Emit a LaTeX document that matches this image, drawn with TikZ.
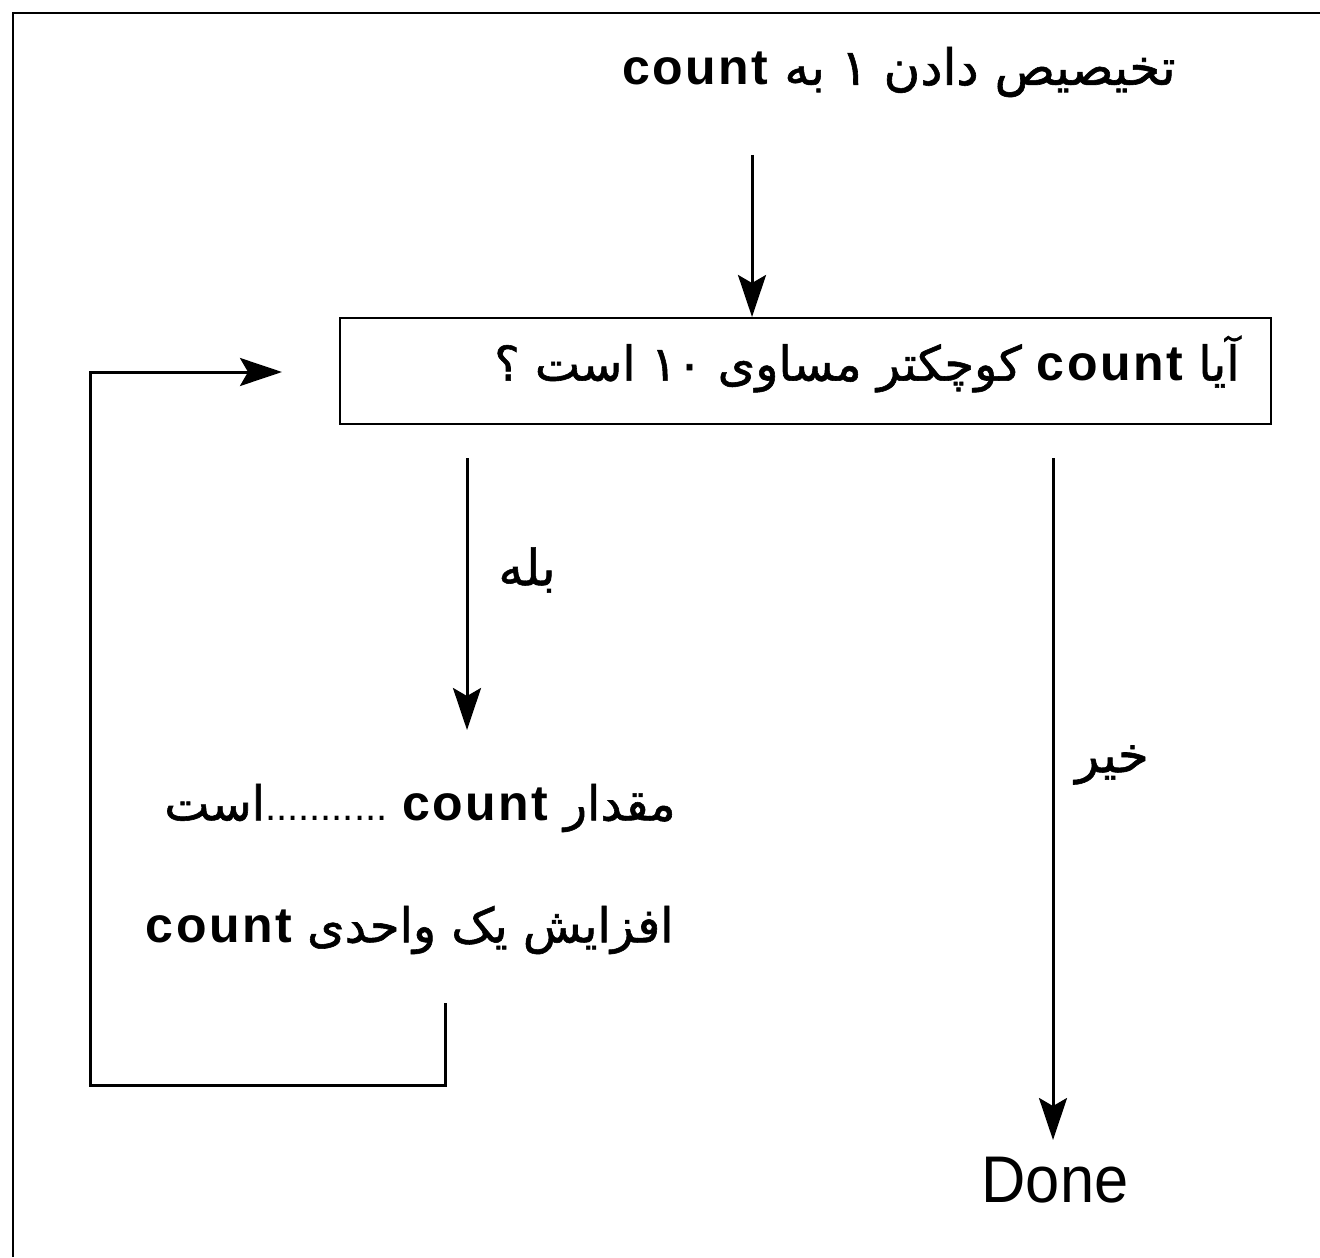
\documentclass[tikz,border=0pt]{standalone}
\usepackage{fontspec}
\setmainfont{Liberation Sans}
\TeXXeTstate=1
\newfontfamily\arfont[Script=Arabic, FakeBold=1.2]{DejaVu Sans}
\newfontfamily\digfont[FakeBold=1.2]{DejaVu Sans}
\newfontfamily\cntfont[LetterSpace=5]{Liberation Sans}
\newfontfamily\dotfont{Liberation Sans}
\usetikzlibrary{arrows.meta}
\newcommand\cnt{\beginL{\cntfont\bfseries\fontsize{25}{30}\selectfont count}\endL}
\tikzset{
  txt/.style={inner sep=0pt, font=\fontsize{25}{30}\selectfont},
  stxt/.style={inner sep=0pt, font=\fontsize{24}{30}\selectfont},
  conn/.style={line width=1.5pt},
  arr/.style={conn, -{Stealth[length=21pt, width=14pt, inset=4pt]}},
  frame/.style={line width=1.3pt},
}
\begin{document}
\begin{tikzpicture}[x=0.5pt, y=-0.5pt]
\useasboundingbox (0,0) rectangle (1320,1257);
% frame
\draw[frame] (13,1257) -- (13,13) -- (1320,13);
% top text
\node[txt] (init) at (899,72) {\arfont\beginR تخیصیص دادن \beginL{\digfont ۱}\endL{} به \cnt\endR};
% box
\node[draw, line width=1pt, minimum width=465.5pt, minimum height=53pt, inner sep=0pt] (box) at (805.5,371) {};
\node[stxt, anchor=east] (q) at (1240,364) {\arfont\beginR آیا \cnt{} کوچکتر مساوی \beginL{\digfont ۱۰}\endL{} است ؟\endR};
% coordinates for free ends
\coordinate (a1) at (752,155);
\coordinate (ys) at (467,458);
\coordinate (ye) at (467,730);
\coordinate (ns) at (1053,458);
\coordinate (ne) at (1053,1140);
\coordinate (ls) at (445,1003);
\coordinate (le) at (282,372);
% body texts
\node[stxt, anchor=east] (val) at (676,808) {\arfont\beginR مقدار \cnt{} \beginL{\dotfont\fontsize{20}{24}\selectfont ...........}\endL است\endR};
\node[stxt, anchor=east] (inc) at (674,930) {\arfont\beginR افزایش یک واحدی \cnt\endR};
% labels
\node[txt] (yes) at (527,570) {\arfont\beginR بله\endR};
\node[txt] (no) at (1112,765) {\arfont\beginR خیر\endR};
\node[inner sep=0pt, font=\fontsize{33}{38}\selectfont] (done) at (1055,1180) {\scalebox{0.93}[1]{Done}};
% connectors
\draw[arr] (a1) -- (a1 |- box.north);
\draw[arr] (ys) -- (ye);
\draw[arr] (ns) -- (ne);
\draw[arr] (ls) -- (445,1085) -- (90,1085) -- (90,372) -- (le);
\end{tikzpicture}
\end{document}
